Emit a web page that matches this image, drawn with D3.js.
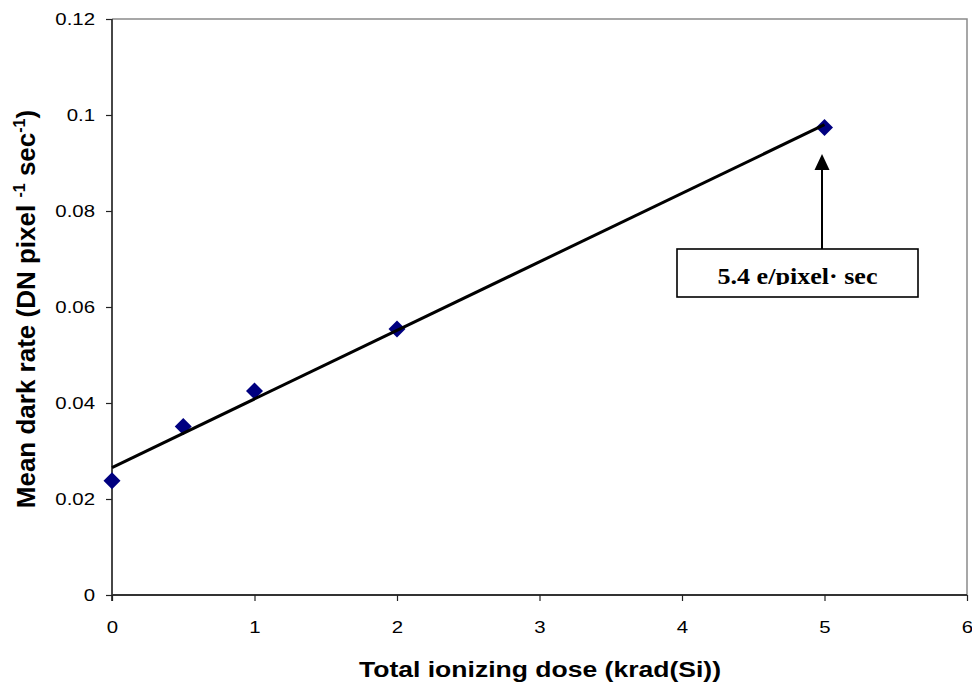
<!DOCTYPE html>
<html>
<head>
<meta charset="utf-8">
<script src="https://cdn.jsdelivr.net/npm/d3@7"></script>
<style>
  html, body { margin: 0; padding: 0; background: #fff; }
  svg { display: block; }
</style>
</head>
<body>
<svg id="chart" width="972" height="686"></svg>
<script>
// Dark rate measured after each total ionizing dose step
const doses = [0, 0.5, 1, 2, 5];
const darkRates = [0.0238, 0.0351, 0.0425, 0.0554, 0.0974];
const xTicks = [0, 1, 2, 3, 4, 5, 6];
const yTicks = [0, 0.02, 0.04, 0.06, 0.08, 0.1, 0.12];
const annotationText = "5.4 e/pixel\u00B7 sec";

const svg = d3.select("#chart");
const plot = { left: 112, top: 19, right: 967, bottom: 595 };
const sans = "Arial, 'Liberation Sans', sans-serif";
const tickWiden = 1.2;

const x = d3.scaleLinear().domain([0, 6]).range([plot.left, plot.right]);
const y = d3.scaleLinear().domain([0, 0.12]).range([plot.bottom, plot.top]);

// plot frame: lighter top/right border
svg.append("path")
  .attr("d", `M${plot.left},${plot.top}H${plot.right}V${plot.bottom}`)
  .attr("fill", "none").attr("stroke", "#8a8a8a").attr("stroke-width", 1.5);

// y axis
const yAxis = svg.append("g")
  .attr("transform", `translate(${plot.left},0)`)
  .call(d3.axisLeft(y).tickValues(yTicks).tickSize(6).tickPadding(11)
    .tickFormat(d => d3.format("~g")(d)));
// x axis
const xAxis = svg.append("g")
  .attr("transform", `translate(0,${plot.bottom})`)
  .call(d3.axisBottom(x).tickValues(xTicks).tickSize(6).tickPadding(20)
    .tickFormat(d3.format("d")));

[yAxis, xAxis].forEach(g => {
  g.select(".domain").attr("stroke", "#333").attr("stroke-width", 1.8);
  g.selectAll(".tick line").attr("stroke", "#222").attr("stroke-width", 1.2);
  g.selectAll(".tick text")
    .attr("fill", "#000")
    .style("font-family", sans)
    .style("font-size", "17px");
});
// slightly wide tick numerals
yAxis.selectAll(".tick text")
  .attr("x", 0)
  .attr("transform", `translate(-17,0) scale(${tickWiden},1)`);
xAxis.selectAll(".tick text")
  .attr("transform", `scale(${tickWiden},1)`);
yAxis.select(".domain").attr("d", `M0,${plot.top}V${plot.bottom + 6}`);
xAxis.select(".domain").attr("d", `M${plot.left},0H${plot.right}`);

// data markers (diamonds)
const half = 8.5;
svg.append("g").selectAll("path")
  .data(doses.map((d, i) => [d, darkRates[i]]))
  .join("path")
  .attr("d", d => {
    const cx = x(d[0]), cy = y(d[1]);
    return `M${cx},${cy - half}L${cx + half},${cy}L${cx},${cy + half}L${cx - half},${cy}Z`;
  })
  .attr("fill", "#000080");

// least-squares linear trend line over the measured range
const mx = d3.mean(doses), my = d3.mean(darkRates);
const sxy = d3.sum(doses, (d, i) => (d - mx) * (darkRates[i] - my));
const sxx = d3.sum(doses, d => (d - mx) * (d - mx));
const slope = sxy / sxx, intercept = my - slope * mx;
const trendX = d3.extent(doses);
svg.append("line")
  .attr("x1", x(trendX[0])).attr("y1", y(intercept + slope * trendX[0]))
  .attr("x2", x(trendX[1])).attr("y2", y(intercept + slope * trendX[1]))
  .attr("stroke", "#000").attr("stroke-width", 3);

// annotation: arrow and text box
const box = { x: 677, y: 249, w: 241, h: 48 };
const arrowX = 822, arrowTip = 154;
svg.append("line")
  .attr("x1", arrowX).attr("x2", arrowX)
  .attr("y1", box.y).attr("y2", arrowTip + 14)
  .attr("stroke", "#000").attr("stroke-width", 2);
svg.append("path")
  .attr("d", `M${arrowX},${arrowTip}L${arrowX + 7.5},${arrowTip + 16}L${arrowX - 7.5},${arrowTip + 16}Z`)
  .attr("fill", "#000");
svg.append("rect")
  .attr("x", box.x).attr("y", box.y).attr("width", box.w).attr("height", box.h)
  .attr("fill", "#fff").attr("stroke", "#000").attr("stroke-width", 1.6);
svg.append("clipPath").attr("id", "boxclip")
  .append("rect").attr("x", box.x).attr("y", box.y).attr("width", box.w).attr("height", 36);
svg.append("text")
  .attr("clip-path", "url(#boxclip)")
  .attr("x", box.x + box.w / 2).attr("y", 284)
  .attr("text-anchor", "middle")
  .attr("textLength", 160).attr("lengthAdjust", "spacingAndGlyphs")
  .style("font-family", "'Times New Roman', 'Liberation Serif', serif")
  .style("font-weight", "bold").style("font-size", "24px")
  .text(annotationText);

// axis titles
svg.append("text")
  .attr("x", 540).attr("y", 677)
  .attr("text-anchor", "middle")
  .attr("textLength", 362).attr("lengthAdjust", "spacingAndGlyphs")
  .style("font-family", sans)
  .style("font-weight", "bold").style("font-size", "22px")
  .text("Total ionizing dose (krad(Si))");

const yTitle = svg.append("text")
  .attr("transform", "translate(35,309) rotate(-90)")
  .attr("text-anchor", "middle")
  .style("font-family", sans)
  .style("font-weight", "bold").style("font-size", "26px");
yTitle.append("tspan").text("Mean dark rate (DN pixel  ");
yTitle.append("tspan").attr("dy", -10).style("font-size", "16px").text("-1");
yTitle.append("tspan").attr("dy", 10).text("  sec");
yTitle.append("tspan").attr("dy", -10).style("font-size", "16px").text("-1");
yTitle.append("tspan").attr("dy", 10).text(")");
</script>
</body>
</html>
